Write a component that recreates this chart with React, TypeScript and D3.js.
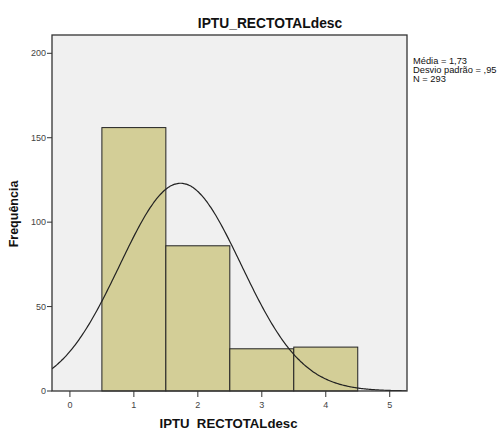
import React from "react";
import * as d3 from "d3";

const binStarts = [0.5, 1.5, 2.5, 3.5];
const binCounts = [156, 86, 25, 26];
const yTicks = [0, 50, 100, 150, 200];
const xTicks = [0, 1, 2, 3, 4, 5];
const mean = 1.73;
const sd = 0.95;
const n = 293;
const statLines = ["Média = 1,73", "Desvio padrão = ,95", "N = 293"];

const W = 500;
const H = 429;
const L = 52, R = 407, T = 35, B = 391;

export default function App() {
  const x = d3.scaleLinear().domain([-0.28, 5.27]).range([L, R]);
  const y = d3.scaleLinear().domain([0, 200]).range([B, 53.3]);
  const binW = 1;
  const curvePts = d3.range(-0.28, 5.27001, 0.02).map((v) => [
    v,
    (n * binW) / (sd * Math.sqrt(2 * Math.PI)) * Math.exp(-0.5 * ((v - mean) / sd) ** 2),
  ]);
  const line = d3
    .line<number[]>()
    .x((d) => x(d[0]))
    .y((d) => y(d[1]))
    .curve(d3.curveBasis);
  const font = "'Liberation Sans', Arial, sans-serif";
  return (
    <svg width={W} height={H} style={{ position: "absolute", left: 0, top: 0 }} fontFamily={font}>
      <rect x={0} y={0} width={W} height={H} fill="#ffffff" />
      <defs>
        <clipPath id="plot">
          <rect x={L} y={T} width={R - L} height={B - T} />
        </clipPath>
      </defs>
      <rect x={L} y={T} width={R - L} height={B - T} fill="#f0f0f0" />
      {binStarts.map((s, i) => (
        <rect
          key={i}
          x={x(s)}
          y={y(binCounts[i])}
          width={x(s + binW) - x(s)}
          height={B - y(binCounts[i])}
          fill="#d3ce97"
          stroke="#222"
          strokeWidth={1}
        />
      ))}
      <path d={line(curvePts) || ""} fill="none" stroke="#222" strokeWidth={1.2} clipPath="url(#plot)" />
      <rect x={L} y={T} width={R - L} height={B - T} fill="none" stroke="#333" strokeWidth={1.3} />
      {yTicks.map((t) => (
        <g key={t}>
          <line x1={L - 5} x2={L} y1={y(t)} y2={y(t)} stroke="#333" />
          <text x={L - 6} y={y(t)} dy="0.35em" textAnchor="end" fontSize={9} fill="#444">
            {t}
          </text>
        </g>
      ))}
      {xTicks.map((t) => (
        <g key={t}>
          <line x1={x(t)} x2={x(t)} y1={B} y2={B + 6} stroke="#333" />
          <text x={x(t)} y={B + 17} textAnchor="middle" fontSize={9} fill="#444">
            {t}
          </text>
        </g>
      ))}
      <text x={270} y={28} textAnchor="middle" fontSize={13.8} fontWeight="bold" fill="#111">
        IPTU_RECTOTALdesc
      </text>
      <text x={228.5} y={427.5} textAnchor="middle" fontSize={13.2} fontWeight="bold" fill="#111">
        IPTU_RECTOTALdesc
      </text>
      <text
        transform={`translate(18,214) rotate(-90)`}
        textAnchor="middle"
        fontSize={12.5}
        fontWeight="bold"
        fill="#111"
      >
        Frequência
      </text>
      {statLines.map((s, i) => (
        <text key={i} x={413} y={64 + i * 9} fontSize={9.3} fill="#111">
          {s}
        </text>
      ))}
    </svg>
  );
}
